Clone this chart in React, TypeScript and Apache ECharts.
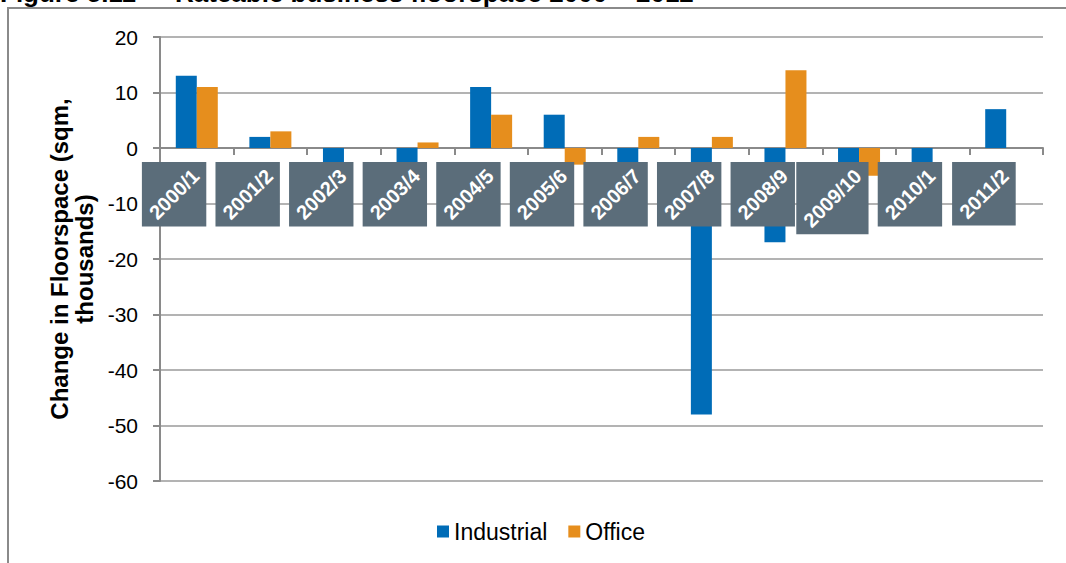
import React, { useEffect, useRef } from 'react';
import * as echarts from 'echarts';

const categories = ['2000/1', '2001/2', '2002/3', '2003/4', '2004/5', '2005/6', '2006/7', '2007/8', '2008/9', '2009/10', '2010/1', '2011/2'];
const industrial = [13, 2, -4, -3, 11, 6, -14, -48, -17, -9, -5, 7];
const office = [11, 3, 0, 1, 6, -3, 2, 2, 14, -5, 0, 0];
const seriesNames = ['Industrial', 'Office'];
const yMin = -60;
const yMax = 20;
const yInterval = 10;
const titleLeft = 'Figure 5.11';
const titleRight = 'Rateable business floorspace 2000 – 2012';
const yAxisName = 'Change in Floorspace (sqm,\nthousands)';

const FONT = '"Liberation Sans", Arial, sans-serif';
const LABEL_SIZE = 20;
const LABEL_FONT = 'bold ' + LABEL_SIZE + 'px "Liberation Sans", Arial, sans-serif';

function measure(text: string): number {
  const c = document.createElement('canvas');
  const ctx = c.getContext('2d');
  if (!ctx) return text.length * 11;
  ctx.font = LABEL_FONT;
  return ctx.measureText(text).width;
}

export default function App() {
  const ref = useRef<HTMLDivElement>(null);
  useEffect(() => {
    if (!ref.current) return;
    const chart = echarts.init(ref.current, null, { renderer: 'svg' });
    const option: any = {
      animation: false,
      backgroundColor: '#fff',
      grid: { left: 160, right: 23, top: 37, bottom: 82 },
      graphic: [
        {
          type: 'rect',
          shape: { x: 8, y: 8, width: 1070, height: 600 },
          style: { fill: 'none', stroke: '#8A8A8A', lineWidth: 2 },
          z: -10,
        },
        {
          type: 'text',
          x: 0,
          y: 6,
          style: { text: titleLeft + '  –', font: 'bold 26px ' + FONT, fill: '#000', verticalAlign: 'bottom' },
        },
        {
          type: 'text',
          x: 175,
          y: 6,
          style: { text: titleRight, font: 'bold 26px ' + FONT, fill: '#000', verticalAlign: 'bottom' },
        },
      ],
      legend: {
        data: seriesNames,
        left: 432,
        top: 515,
        icon: 'rect',
        itemWidth: 12,
        itemHeight: 12,
        itemGap: 21,
        textStyle: { fontSize: 23, fontFamily: FONT, color: '#000' },
      },
      xAxis: {
        type: 'category',
        data: categories,
        axisLabel: { show: false },
        axisTick: { show: true, length: 7, lineStyle: { color: '#8A8A8A', width: 2 } },
        axisLine: { show: true, onZero: true, lineStyle: { color: '#8A8A8A', width: 2 } },
        splitLine: { show: false },
      },
      yAxis: {
        type: 'value',
        min: yMin,
        max: yMax,
        interval: yInterval,
        name: yAxisName,
        nameLocation: 'middle',
        nameGap: 62,
        nameTextStyle: { fontSize: 24, fontWeight: 'bold', fontFamily: FONT, color: '#000', lineHeight: 25 },
        axisLine: { show: true, lineStyle: { color: '#8A8A8A', width: 2 } },
        axisTick: { show: true, length: 7, lineStyle: { color: '#8A8A8A', width: 2 } },
        axisLabel: { fontSize: 21, fontFamily: FONT, color: '#000', margin: 22 },
        splitLine: { show: true, lineStyle: { color: '#9A9A9A', width: 1.5 } },
      },
      series: [
        {
          name: seriesNames[0],
          type: 'bar',
          data: industrial,
          barWidth: 21,
          barGap: '0%',
          itemStyle: { color: '#006CB7' },
        },
        {
          name: seriesNames[1],
          type: 'bar',
          data: office,
          barWidth: 21,
          barGap: '0%',
          itemStyle: { color: '#E68E1D' },
        },
        {
          name: 'labels',
          type: 'custom',
          silent: true,
          clip: false,
          z: 10,
          encode: { x: 0, y: 1 },
          data: categories.map((_, i) => [i, 0]),
          renderItem: (params: any, api: any) => {
            const idx = api.value(0);
            const pt = api.coord([idx, 0]);
            const label = categories[idx];
            const w = measure(label);
            const s = (w + LABEL_SIZE) / Math.SQRT2 + 7;
            const right = pt[0] + 9.5;
            const left = right - s;
            const top = pt[1] + 14;
            return {
              type: 'group',
              children: [
                { type: 'rect', shape: { x: left, y: top, width: s, height: s }, style: { fill: '#5B6D7A' } },
                {
                  type: 'text',
                  x: left + s / 2,
                  y: top + s / 2,
                  rotation: Math.PI / 4,
                  style: { text: label, fill: '#fff', font: LABEL_FONT, align: 'center', verticalAlign: 'middle' },
                },
              ],
            };
          },
        },
      ],
    };
    chart.setOption(option);
    return () => chart.dispose();
  }, []);
  return <div ref={ref} style={{ position: 'fixed', left: 0, top: 0, width: 1066, height: 563 }} />;
}
